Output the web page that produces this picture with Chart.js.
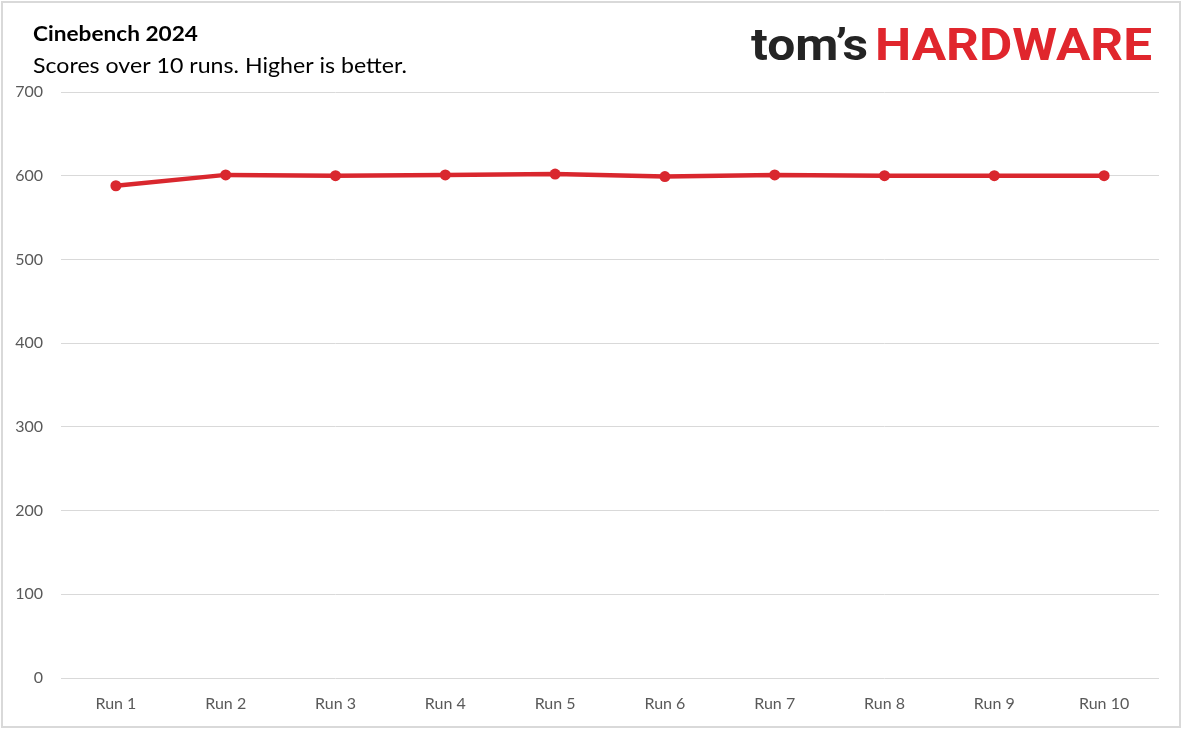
<!DOCTYPE html>
<html>
<head>
<meta charset="utf-8">
<script src="https://cdn.jsdelivr.net/npm/chart.js@4"></script>
<style>
    html, body { margin: 0; padding: 0; background: #fff; }
    #wrap { position: relative; width: 1185px; height: 729px; }
    #frame { position: absolute; left: 1px; top: 1px; width: 1180px; height: 727px;
             box-sizing: border-box; border: 2px solid #d9d9d9; pointer-events: none; }
</style>
</head>
<body>
<div id="wrap">
    <canvas id="myChart" width="1185" height="729"></canvas>
    <div id="frame"></div>
</div>
<script>
const runLabels = ["Run 1", "Run 2", "Run 3", "Run 4", "Run 5", "Run 6", "Run 7", "Run 8", "Run 9", "Run 10"];
const scores = [588, 601, 600, 601, 602, 599, 601, 600, 600, 600];
const yTicks = [0, 100, 200, 300, 400, 500, 600, 700];

const titleText = "Cinebench 2024";
const subtitleText = "Scores over 10 runs. Higher is better.";
const logoDark = "tom\u2019s";
const logoRed = "HARDWARE";

const lineColor = "#d9272e";
const textFont = "Lato, 'Open Sans', sans-serif";

// title block and logo drawn straight on the canvas
const headerPlugin = {
    id: 'header',
    afterDraw(chart) {
        const ctx = chart.ctx;
        ctx.save();
        ctx.textBaseline = 'alphabetic';
        ctx.textAlign = 'left';

        // text squeezed or stretched a bit to match the original widths
        const drawFit = (txt, font, x, base, w, color) => {
            ctx.font = font;
            const m = ctx.measureText(txt).width;
            ctx.save();
            ctx.translate(x, base);
            ctx.scale(w / m, 1);
            ctx.fillStyle = color;
            ctx.fillText(txt, 0, 0);
            ctx.restore();
        };
        drawFit(titleText, "bold 21.5px " + textFont, 33, 41, 165, '#000');
        drawFit(subtitleText, "21px " + textFont, 33, 72.5, 374, '#000');
        drawFit(logoDark, "bold 45px Roboto, sans-serif", 751, 60, 117, '#242424');
        drawFit(logoRed, "bold 45px Roboto, sans-serif", 875, 60, 277, '#e0262d');
        ctx.restore();
    }
};

new Chart("myChart", {
    type: "line",
    data: {
        labels: runLabels,
        datasets: [{
            data: scores,
            borderColor: lineColor,
            backgroundColor: lineColor,
            borderWidth: 4.5,
            pointRadius: 5.5,
            pointHoverRadius: 5.5,
            pointBackgroundColor: lineColor,
            pointBorderWidth: 0,
            tension: 0
        }]
    },
    plugins: [headerPlugin],
    options: {
        responsive: false,
        animation: false,
        layout: {
            padding: { top: 92, left: 0, right: 26, bottom: 0 }
        },
        plugins: {
            legend: { display: false },
            tooltip: { enabled: false }
        },
        scales: {
            x: {
                offset: true,
                grid: { display: false, drawTicks: false },
                border: { display: false },
                ticks: {
                    color: '#595959',
                    font: { family: textFont, size: 16 },
                    padding: 16,
                    maxRotation: 0
                },
                afterFit(scale) { scale.height = 51; }
            },
            y: {
                min: 0,
                max: 700,
                afterBuildTicks(scale) {
                    scale.ticks = yTicks.map(v => ({ value: v }));
                },
                grid: { color: '#d9d9d9', lineWidth: 1, drawTicks: false },
                border: { display: false },
                ticks: {
                    color: '#595959',
                    font: { family: textFont, size: 16 },
                    padding: 18
                },
                afterFit(scale) { scale.width = 61; }
            }
        }
    }
});
</script>
</body>
</html>
